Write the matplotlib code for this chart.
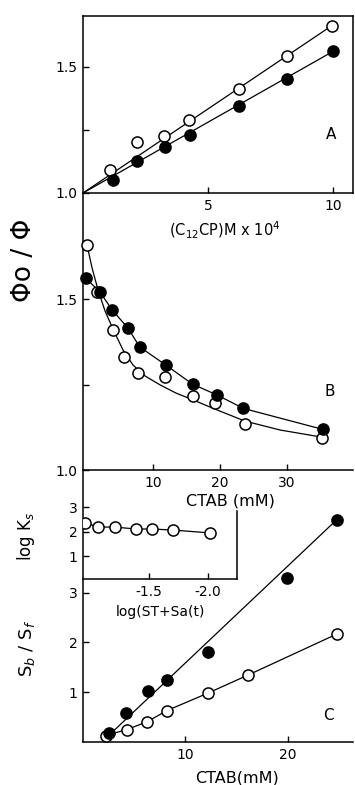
import matplotlib.pyplot as plt

# ---- panel A: phi0/phi vs (C12CP) M x 10^4
a_x_open = [1.08, 2.16, 3.24, 4.24, 6.24, 8.16, 9.96]
a_y_open = [1.09, 1.20, 1.226, 1.29, 1.41, 1.54, 1.66]
a_x_fill = [1.2, 2.16, 3.28, 4.28, 6.24, 8.16, 10.0]
a_y_fill = [1.05, 1.127, 1.18, 1.23, 1.345, 1.45, 1.56]
a_line_x = [0.0, 10.0]
a_line_open = [1.0, 1.665]
a_line_fill = [1.0, 1.56]

# ---- panel B: phi0/phi vs CTAB (mM)
b_x_open = [0.15, 1.6, 4.0, 5.6, 7.8, 11.8, 16.0, 19.3, 23.7, 35.2]
b_y_open = [1.658, 1.52, 1.41, 1.331, 1.285, 1.271, 1.217, 1.195, 1.134, 1.093]
b_x_fill = [0.0, 2.1, 3.9, 6.3, 8.0, 11.9, 15.9, 19.6, 23.5, 35.3]
b_y_fill = [1.56, 1.52, 1.468, 1.414, 1.36, 1.307, 1.251, 1.219, 1.18, 1.119]
# smooth guide curve drawn through the open set
b_curve_x = [0.15, 0.9, 1.8, 2.84, 4.03, 5.52, 7.01, 8.81, 11.04, 13.43,
             15.97, 19.25, 23.73, 28.96, 35.22]
b_curve_y = [1.658, 1.591, 1.526, 1.465, 1.412, 1.351, 1.307, 1.275, 1.249,
             1.225, 1.205, 1.178, 1.143, 1.117, 1.096]

# ---- panel C: Sb/Sf vs CTAB (mM)
c_x_fill = [2.5, 4.2, 6.4, 8.2, 12.2, 19.9, 24.8]
c_y_fill = [0.19, 0.59, 1.03, 1.24, 1.81, 3.29, 4.46]
c_x_open = [2.2, 4.3, 6.3, 8.2, 12.2, 16.1, 24.85]
c_y_open = [0.13, 0.25, 0.41, 0.63, 0.98, 1.34, 2.17]
c_line_x = [2.1, 24.8]
c_line_fill = [0.05, 4.46]

# ---- inset: log Ks vs log(ST+Sa(t))
i_x = [-0.96, -1.07, -1.21, -1.39, -1.525, -1.70, -2.02]
i_y = [2.37, 2.2, 2.2, 2.12, 2.12, 2.08, 1.96]

W, H = 355, 785


def box(x0, y0, x1, y1):
    # pixel box (top-left origin) -> figure fraction rect
    return [x0 / W, 1 - y1 / H, (x1 - x0) / W, (y1 - y0) / H]


def fx(px):
    return px / W


def fy(py):
    return 1 - py / H


plt.rcParams['font.family'] = ['DejaVu Sans']
fig = plt.figure(figsize=(W / 100, H / 100), dpi=100)

axA = fig.add_axes(box(83, 16, 353, 193))
axB = fig.add_axes(box(83, 193, 353, 470))
axC = fig.add_axes(box(83, 470, 353, 742))
axI = fig.add_axes(box(83, 470, 237, 579))

for ax in (axA, axB, axC, axI):
    ax.set_facecolor('none')
    ax.tick_params(direction='in', length=4, width=1, labelsize=10, pad=4)
    for s in ax.spines.values():
        s.set_linewidth(1.1)

mk_open = dict(marker='o', ms=8, mfc='white', mec='black', mew=1.1, ls='none', zorder=3)
mk_fill = dict(marker='o', ms=8, mfc='black', mec='black', mew=1.1, ls='none', zorder=3)
ln = dict(color='black', lw=0.9)

# A
axA.plot(a_line_x, a_line_open, **ln)
axA.plot(a_line_x, a_line_fill, **ln)
axA.plot(a_x_open, a_y_open, clip_on=False, **mk_open)
axA.plot(a_x_fill, a_y_fill, clip_on=False, **mk_fill)
axA.set_xlim(0, 10.8)
axA.set_ylim(1.0, 1.70)
axA.set_xticks([5, 10])
axA.set_yticks([1.0, 1.25, 1.5])
axA.set_yticklabels(['1.0', '', '1.5'])
axA.text(0.92, 0.33, 'A', transform=axA.transAxes, fontsize=11, ha='center', va='center')

# B
axB.plot(b_curve_x, b_curve_y, **ln)
axB.plot(b_x_fill, b_y_fill, **ln)
axB.plot(b_x_open, b_y_open, clip_on=False, **mk_open)
axB.plot(b_x_fill, b_y_fill, clip_on=False, **mk_fill)
axB.set_xlim(-0.45, 39.85)
axB.set_ylim(1.0, 1.81)
axB.set_xticks([10, 20, 30])
axB.set_yticks([1.0, 1.25, 1.5])
axB.set_yticklabels(['1.0', '', '1.5'])
axB.spines['right'].set_visible(False)
axB.spines['top'].set_visible(False)
axB.text(fx(330), fy(392), 'B', transform=fig.transFigure, fontsize=11,
         ha='center', va='center')

# C
axC.plot(c_line_x, c_line_fill, **ln)
axC.plot(c_x_open, c_y_open, **ln)
axC.plot(c_x_open, c_y_open, clip_on=False, **mk_open)
axC.plot(c_x_fill, c_y_fill, clip_on=False, **mk_fill)
axC.set_xlim(0, 26.4)
axC.set_ylim(0, 5.46)
axC.set_xticks([10, 20])
axC.set_yticks([1, 2, 3])
axC.spines['right'].set_visible(False)
axC.spines['top'].set_visible(False)
axC.text(fx(328), fy(715), 'C', transform=fig.transFigure, fontsize=11,
         ha='center', va='center')

# inset
axI.plot(i_x, i_y, color='black', lw=0.9, marker='o', ms=8, mfc='white',
         mec='black', mew=1.1)
axI.set_xlim(-0.94, -2.246)
axI.set_ylim(0.08, 4.53)
axI.set_xticks([-1.5, -2.0])
axI.set_xticklabels(['-1.5', '-2.0'])
axI.set_yticks([1, 2, 3])
axI.spines['top'].set_visible(False)
axI.spines['left'].set_visible(False)
axI.spines['right'].set_bounds(0.08, 2.85)

# axis labels
fig.text(fx(225), fy(230), r'(C$_{12}$CP)M x 10$^4$', fontsize=10.5,
         ha='center', va='center')
fig.text(fx(230), fy(501), 'CTAB (mM)', fontsize=11.5, ha='center', va='center')
fig.text(fx(237), fy(778), 'CTAB(mM)', fontsize=11.5, ha='center', va='center')
fig.text(fx(160), fy(612), 'log(ST+Sa(t)', fontsize=10, ha='center', va='center')
fig.text(fx(24), fy(260), 'Φo / Φ', fontsize=19, rotation=90,
         ha='center', va='center')
fig.text(fx(26), fy(536), r'log K$_s$', fontsize=12, rotation=90,
         ha='center', va='center')
fig.text(fx(27), fy(648), r'S$_b$ / S$_f$', fontsize=13, rotation=90,
         ha='center', va='center')

fig.savefig('out.png', dpi=100)
